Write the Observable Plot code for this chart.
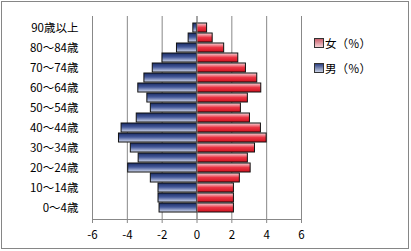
<!DOCTYPE html>
<html><head><meta charset="utf-8">
<script src="https://cdn.jsdelivr.net/npm/d3@7"></script>
<script src="https://cdn.jsdelivr.net/npm/@observablehq/plot@0.6"></script>
<style>
body{margin:0;background:#fff;}
#wrap{position:relative;width:411px;height:251px;overflow:hidden;font-family:"Noto Sans CJK JP",sans-serif;}
#border{position:absolute;left:1px;top:1px;width:406px;height:246px;border:1px solid #868686;pointer-events:none;}
#legend{position:absolute;left:314px;top:31px;font-size:11.5px;color:#000;line-height:25px;}
#legend .sw{display:inline-block;width:8px;height:8px;border:1px solid #333;margin-right:1px;vertical-align:-0px;}
svg{position:absolute;left:0;top:0;}
</style></head>
<body><div id="wrap"><div id="border"></div>
<div id="legend"><div><span class="sw" style="background:linear-gradient(#c8606c,#f4d0d4)"></span>女（％）</div><div><span class="sw" style="background:linear-gradient(#2c3f80,#c8d0e4)"></span>男（％）</div></div>
</div>
<script>
const ages = ["0～4歳","5～9歳","10～14歳","15～19歳","20～24歳","25～29歳","30～34歳","35～39歳","40～44歳","45～49歳","50～54歳","55～59歳","60～64歳","65～69歳","70～74歳","75～79歳","80～84歳","85～89歳","90歳以上"];
const male = [2.15,2.21,2.21,2.65,3.95,3.35,3.8,4.48,4.33,3.46,2.65,2.85,3.37,3.02,2.54,1.98,1.15,0.48,0.21];
const female = [2.12,2.12,2.12,2.46,3.08,2.92,3.33,4.0,3.67,3.04,2.52,2.92,3.69,3.46,2.81,2.37,1.56,0.9,0.58];
const xTicks = [-6,-4,-2,0,2,4,6];
const yLabels = ["0～4歳","10～14歳","20～24歳","30～34歳","40～44歳","50～54歳","60～64歳","70～74歳","80～84歳","90歳以上"];

const rows = ages.map((a,i)=>({age:a, male:male[i], female:female[i]}));

const defs = () => {
  const ns = "http://www.w3.org/2000/svg";
  const d = document.createElementNS(ns,"defs");
  d.innerHTML = `
  <linearGradient id="gm" x1="0" y1="0" x2="0" y2="1">
    <stop offset="0" stop-color="#1a2c66"/>
    <stop offset="0.45" stop-color="#45599a"/>
    <stop offset="1" stop-color="#d4dbee"/>
  </linearGradient>
  <linearGradient id="gf" x1="0" y1="0" x2="0" y2="1">
    <stop offset="0" stop-color="#f8d8dc"/>
    <stop offset="0.5" stop-color="#ea3544"/>
    <stop offset="1" stop-color="#d0101e"/>
  </linearGradient>`;
  return d;
};

const chart = Plot.plot({
  width: 411, height: 251,
  marginLeft: 92, marginRight: 110, marginTop: 16, marginBottom: 32,
  style: {fontFamily: '"Noto Sans CJK JP", sans-serif', fontSize: "11.5px", color: "#000", background: "transparent"},
  x: {domain: [-6,6], ticks: xTicks},
  y: {domain: ages.slice().reverse(), padding: 0.06},
  marks: [
    defs,
    Plot.ruleX(xTicks, {stroke: "#888", strokeWidth: 1}),
    Plot.barX(rows, {y: "age", x1: d => -d.male, x2: 0, fill: "url(#gm)", stroke: "#111", strokeWidth: 1}),
    Plot.barX(rows, {y: "age", x1: 0, x2: "female", fill: "url(#gf)", stroke: "#111", strokeWidth: 1}),
    Plot.ruleX([0], {stroke: "#888", strokeWidth: 1}),
    Plot.frame({anchor: "bottom", stroke: "#888"}),
    Plot.axisX({ticks: xTicks, tickSize: 4, tickPadding: 7, stroke: "#888", label: null, tickFormat: d => String(d)}),
    Plot.axisY({ticks: yLabels, tickSize: 0, tickPadding: 14, label: null})
  ]
});
chart.querySelectorAll('g[aria-label="x-axis tick label"] text, g[aria-label="y-axis tick label"] text').forEach(t=>t.setAttribute("fill","#000"));
document.getElementById("wrap").insertBefore(chart, document.getElementById("border"));
</script>
</body></html>
